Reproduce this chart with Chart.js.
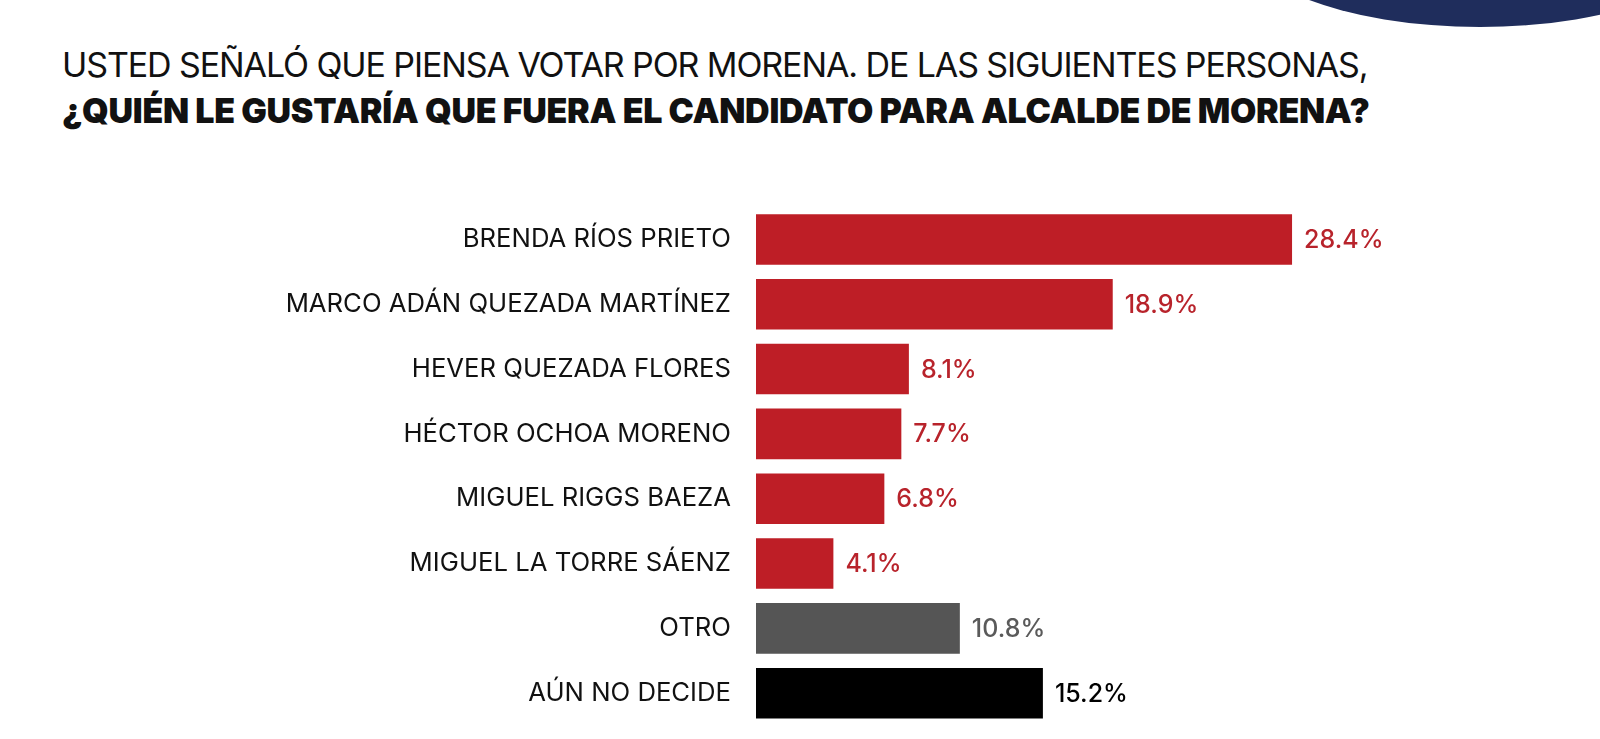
<!DOCTYPE html>
<html lang="es">
<head>
<meta charset="utf-8">
<title>Candidato Morena</title>
<script src="https://cdn.jsdelivr.net/npm/chart.js@4.4.1/dist/chart.umd.min.js"></script>
<style>
    html, body { margin: 0; padding: 0; background: #ffffff; }
    body { width: 1600px; height: 739px; position: relative; overflow: hidden; font-family: Inter, "Open Sans", sans-serif; }
    .forma { position: absolute; left: 1230px; top: -173px; width: 500px; height: 200px; border-radius: 50%; background: #1f2d5c; }
    .titulo { position: absolute; left: 62px; top: 42px; color: #111; font-size: 34px; line-height: 46px; white-space: nowrap; }
    .titulo .l1 { font-weight: 400; letter-spacing: -1.1px; }
    .titulo .l2 { font-weight: 900; letter-spacing: -0.3px; }
    #graficoCandidatos { position: absolute; left: 0; top: 0; }
</style>
</head>
<body>
<div class="forma"></div>
<div class="titulo">
    <div class="l1">USTED SEÑALÓ QUE PIENSA VOTAR POR MORENA. DE LAS SIGUIENTES PERSONAS,</div>
    <div class="l2">¿QUIÉN LE GUSTARÍA QUE FUERA EL CANDIDATO PARA ALCALDE DE MORENA?</div>
</div>
<canvas id="graficoCandidatos" width="1600" height="766"></canvas>
<script>
// Datos
const candidatos = [
    'BRENDA RÍOS PRIETO',
    'MARCO ADÁN QUEZADA MARTÍNEZ',
    'HEVER QUEZADA FLORES',
    'HÉCTOR OCHOA MORENO',
    'MIGUEL RIGGS BAEZA',
    'MIGUEL LA TORRE SÁENZ',
    'OTRO',
    'AÚN NO DECIDE'
];
const porcentajes = [28.4, 18.9, 8.1, 7.7, 6.8, 4.1, 10.8, 15.2];

// Estilos
const rojo = '#be1e26';
const coloresBarras = [rojo, rojo, rojo, rojo, rojo, rojo, '#555555', '#000000'];
const coloresValores = ['#b8232b', '#b8232b', '#b8232b', '#b8232b', '#b8232b', '#b8232b', '#5a5a5a', '#000000'];

// Plugin para escribir el porcentaje al final de cada barra
const etiquetasValores = {
    id: 'etiquetasValores',
    afterDatasetsDraw(chart) {
        const ctx = chart.ctx;
        const meta = chart.getDatasetMeta(0);
        ctx.save();
        ctx.font = '500 25px Inter, "Open Sans", sans-serif';
        ctx.textAlign = 'left';
        ctx.textBaseline = 'middle';
        meta.data.forEach((barra, i) => {
            ctx.fillStyle = coloresValores[i];
            ctx.fillText(porcentajes[i].toFixed(1) + '%', barra.x + 12, barra.y + 1);
        });
        ctx.restore();
    }
};

const ctx = document.getElementById('graficoCandidatos');
new Chart(ctx.getContext('2d'), {
    type: 'bar',
    data: {
        labels: candidatos,
        datasets: [{
            data: porcentajes,
            backgroundColor: coloresBarras,
            barPercentage: 0.78,
            categoryPercentage: 1
        }]
    },
    options: {
        indexAxis: 'y',
        responsive: false,
        animation: false,
        layout: { padding: { left: 0, top: 207, bottom: 11, right: 89 } },
        plugins: {
            legend: { display: false },
            tooltip: { enabled: false }
        },
        scales: {
            x: {
                min: 0,
                max: 40,
                display: false
            },
            y: {
                afterFit: (escala) => { escala.width = 756; },
                border: { display: false },
                grid: { display: false, drawTicks: false },
                ticks: {
                    padding: 25,
                    color: '#111111',
                    font: { family: 'Inter, "Open Sans", sans-serif', size: 25.7, weight: 400 }
                }
            }
        }
    },
    plugins: [etiquetasValores]
});
</script>
</body>
</html>
